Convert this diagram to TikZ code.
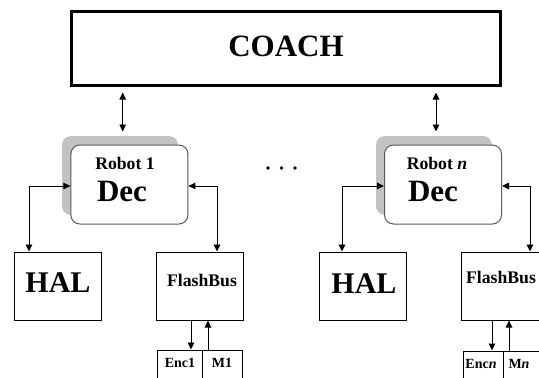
\documentclass[tikz,border=0pt]{standalone}
\usepackage{fontspec}
\setmainfont{Liberation Serif}
\usetikzlibrary{arrows.meta}
\begin{document}
\begin{tikzpicture}[x=1pt,y=-1pt,
  arr/.style={{Triangle[length=7pt,width=6.5pt]}-{Triangle[length=7pt,width=6.5pt]}, line width=0.9pt},
  darr/.style={-{Triangle[length=7pt,width=6.5pt]}, line width=0.9pt},
  box/.style={draw, line width=1pt, inner sep=0, minimum width=87pt, minimum height=68pt},
  smallbox/.style={draw, line width=1pt, inner sep=0, minimum height=40pt},
  decbox/.style={draw=black!65, line width=1pt, rounded corners=9pt, fill=white, inner sep=0, minimum width=117pt, minimum height=79pt},
  shadowbox/.style={fill=black!24, rounded corners=9pt, inner sep=0, minimum width=116pt, minimum height=79pt},
  big/.style={inner sep=0, font=\fontsize{31}{31}\selectfont\bfseries},
  hal/.style={inner sep=0, font=\fontsize{30}{30}\selectfont\bfseries},
  mid/.style={inner sep=0, font=\fontsize{17.7}{18}\selectfont\bfseries},
  small/.style={inner sep=0, font=\fontsize{14}{14}\selectfont\bfseries},
  dot/.style={circle, fill, inner sep=0, minimum size=3.6pt}]
\useasboundingbox (0,0) rectangle (539,378);
\clip (0,0) rectangle (539,378);

% COACH
\node[draw, line width=3pt, minimum width=429pt, minimum height=74pt, inner sep=0] (coach) at (286,48) {};
\node[big] (coachtxt) at (286,46) {COACH};

% Robot 1
\node[shadowbox] (s1) at (120,175.5) {};
\node[decbox] (d1) at (129.4,184.5) {};
\node[mid] (r1) at (125,163) {Robot 1};
\node[big] (dec1) at (122,191) {Dec};

% Robot n
\node[shadowbox] (sn) at (434,175.5) {};
\node[decbox] (dn) at (443,184.5) {};
\node[mid] (rn) at (437,163) {Robot \textit{n}};
\node[big] (decn) at (433,191) {Dec};

% dots
\node[dot] (dt1) at (268,168) {};
\node[dot] (dt2) at (281.5,168) {};
\node[dot] (dt3) at (295,168) {};

% lower boxes left
\node[box] (hal1) at (57.5,286) {};
\node[hal] (hal1t) at (58,283) {HAL};
\node[box] (fb1) at (199.5,286) {};
\node[mid] (fb1t) at (202,280) {FlashBus};
\node[smallbox, minimum width=45pt] (enc1) at (179.5,370) {};
\node[smallbox, minimum width=40pt] (m1) at (222,370) {};
\node[small] (enc1t) at (180,363) {Enc1};
\node[small] (m1t) at (222,363) {M1};

% lower boxes right
\node[box] (haln) at (362.5,286) {};
\node[hal] (halnt) at (364,284) {HAL};
\node[box] (fbn) at (504.5,286) {};
\node[mid] (fbnt) at (501,277) {FlashBus};
\node[smallbox, minimum width=40pt] (encn) at (483,371) {};
\node[smallbox, minimum width=42pt] (mn) at (524,371) {};
\node[small] (encnt) at (481,364) {Enc\textit{n}};
\node[small] (mnt) at (519,364) {M\textit{n}};

% connectors
\draw[arr] ([xshift=-6.7pt,yshift=-6pt]coach.south -| d1.north) -- ([xshift=-6.7pt,yshift=13pt]d1.north);
\draw[arr] ([xshift=-7pt,yshift=-6pt]coach.south -| dn.north) -- ([xshift=-7pt,yshift=13pt]dn.north);

\draw[arr] ([yshift=-1.5pt]d1.west) -| ([xshift=-28.5pt]hal1.north);
\draw[arr] ([yshift=-1.5pt]d1.east) -| ([xshift=17.5pt]fb1.north);
\draw[arr] ([yshift=-1.5pt]dn.west) -| ([xshift=-20.5pt]haln.north);
\draw[arr] ([yshift=-1.5pt]dn.east) -| ([xshift=25.5pt]fbn.north);

\draw[darr] ([xshift=11.5pt]enc1.north |- fb1.south) -- ([xshift=11.5pt]enc1.north);
\draw[darr] ([xshift=-14pt]m1.north) -- ([xshift=-14pt]m1.north |- fb1.south);
\draw[darr] ([xshift=9pt]encn.north |- fbn.south) -- ([xshift=9pt]encn.north);
\draw[darr] ([xshift=-15pt]mn.north) -- ([xshift=-15pt]mn.north |- fbn.south);
\end{tikzpicture}
\end{document}
